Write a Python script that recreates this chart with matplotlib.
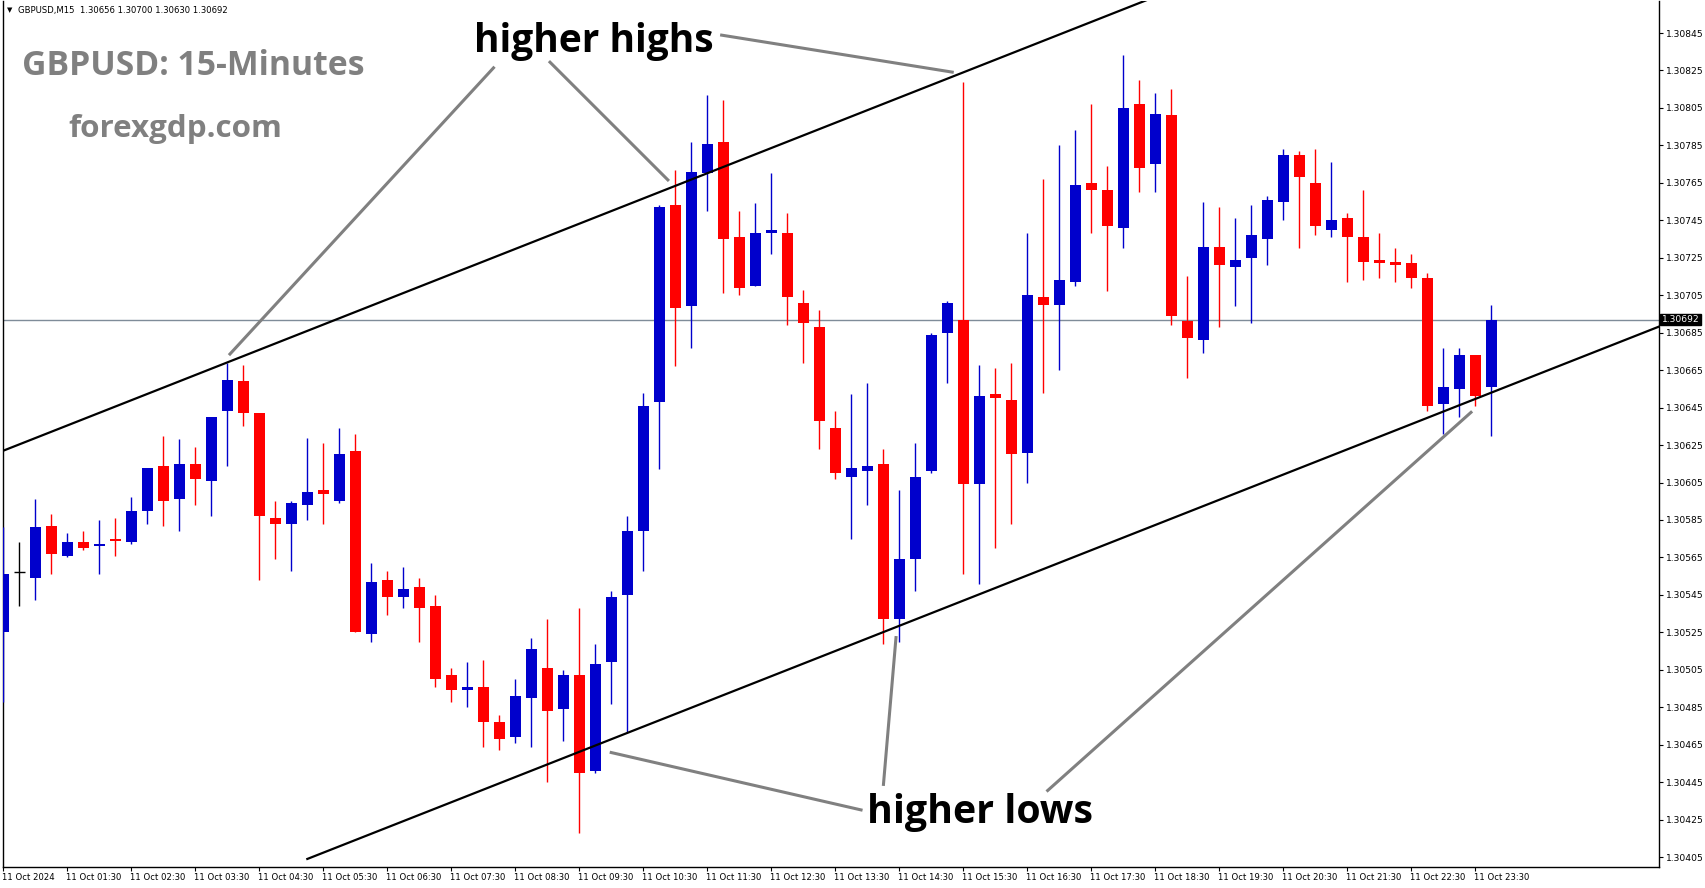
import matplotlib
matplotlib.use("Agg")
import matplotlib.pyplot as plt
import matplotlib.transforms as mtransforms

# GBPUSD M15 candles, 11 Oct 2024 00:30 .. 23:45
opens = [1.30525, 1.30557, 1.30554, 1.30582, 1.30566, 1.30573, 1.30571, 1.30575, 1.30573, 1.30590,
         1.30614, 1.30596, 1.30615, 1.30606, 1.30643, 1.30659, 1.30642, 1.30586, 1.30583, 1.30593,
         1.30601, 1.30595, 1.30622, 1.30524, 1.30553, 1.30544, 1.30549, 1.30539, 1.30502, 1.30494,
         1.30496, 1.30477, 1.30469, 1.30490, 1.30506, 1.30484, 1.30502, 1.30451, 1.30509, 1.30545,
         1.30579, 1.30648, 1.30753, 1.30699, 1.30770, 1.30787, 1.30736, 1.30710, 1.30738, 1.30738,
         1.30701, 1.30688, 1.30634, 1.30608, 1.30611, 1.30615, 1.30532, 1.30564, 1.30611, 1.30685,
         1.30692, 1.30604, 1.30652, 1.30649, 1.30621, 1.30704, 1.30700, 1.30712, 1.30765, 1.30761,
         1.30741, 1.30807, 1.30775, 1.30801, 1.30691, 1.30681, 1.30731, 1.30720, 1.30725, 1.30735,
         1.30755, 1.30780, 1.30765, 1.30740, 1.30746, 1.30736, 1.30724, 1.30723, 1.30722, 1.30714,
         1.30647, 1.30655, 1.30673, 1.30656]
highs = [1.30581, 1.30573, 1.30596, 1.30588, 1.30578, 1.30579, 1.30585, 1.30586, 1.30597, 1.30613,
         1.30630, 1.30628, 1.30624, 1.30640, 1.30669, 1.30668, 1.30642, 1.30595, 1.30595, 1.30629,
         1.30626, 1.30634, 1.30631, 1.30562, 1.30558, 1.30560, 1.30554, 1.30545, 1.30506, 1.30509,
         1.30510, 1.30481, 1.30500, 1.30522, 1.30532, 1.30505, 1.30538, 1.30519, 1.30547, 1.30587,
         1.30653, 1.30753, 1.30772, 1.30787, 1.30812, 1.30809, 1.30750, 1.30754, 1.30770, 1.30749,
         1.30708, 1.30697, 1.30643, 1.30652, 1.30658, 1.30623, 1.30601, 1.30626, 1.30685, 1.30702,
         1.30819, 1.30668, 1.30666, 1.30669, 1.30738, 1.30767, 1.30785, 1.30793, 1.30807, 1.30774,
         1.30833, 1.30820, 1.30813, 1.30815, 1.30715, 1.30755, 1.30752, 1.30746, 1.30753, 1.30758,
         1.30783, 1.30782, 1.30783, 1.30776, 1.30749, 1.30761, 1.30738, 1.30730, 1.30727, 1.30717,
         1.30677, 1.30677, 1.30673, 1.30700]
lows = [1.30488, 1.30539, 1.30542, 1.30556, 1.30565, 1.30569, 1.30556, 1.30566, 1.30572, 1.30583,
        1.30582, 1.30579, 1.30593, 1.30587, 1.30614, 1.30635, 1.30553, 1.30564, 1.30558, 1.30585,
        1.30583, 1.30594, 1.30525, 1.30520, 1.30534, 1.30538, 1.30520, 1.30496, 1.30488, 1.30485,
        1.30464, 1.30462, 1.30466, 1.30464, 1.30445, 1.30467, 1.30418, 1.30450, 1.30487, 1.30472,
        1.30558, 1.30612, 1.30667, 1.30677, 1.30750, 1.30706, 1.30705, 1.30710, 1.30727, 1.30689,
        1.30669, 1.30623, 1.30607, 1.30575, 1.30593, 1.30519, 1.30520, 1.30547, 1.30610, 1.30658,
        1.30556, 1.30551, 1.30570, 1.30583, 1.30605, 1.30653, 1.30665, 1.30710, 1.30738, 1.30707,
        1.30730, 1.30760, 1.30760, 1.30689, 1.30661, 1.30674, 1.30688, 1.30699, 1.30690, 1.30721,
        1.30745, 1.30730, 1.30737, 1.30736, 1.30712, 1.30713, 1.30714, 1.30712, 1.30709, 1.30643,
        1.30631, 1.30640, 1.30646, 1.30630]
closes = [1.30556, 1.30557, 1.30581, 1.30567, 1.30573, 1.30570, 1.30572, 1.30574, 1.30590, 1.30613,
          1.30595, 1.30615, 1.30607, 1.30640, 1.30660, 1.30642, 1.30587, 1.30583, 1.30594, 1.30600,
          1.30599, 1.30620, 1.30525, 1.30552, 1.30544, 1.30548, 1.30538, 1.30500, 1.30494, 1.30496,
          1.30477, 1.30468, 1.30491, 1.30516, 1.30483, 1.30502, 1.30450, 1.30508, 1.30544, 1.30579,
          1.30646, 1.30752, 1.30698, 1.30771, 1.30786, 1.30735, 1.30709, 1.30738, 1.30740, 1.30704,
          1.30690, 1.30638, 1.30610, 1.30613, 1.30614, 1.30532, 1.30564, 1.30608, 1.30684, 1.30701,
          1.30604, 1.30651, 1.30650, 1.30620, 1.30705, 1.30700, 1.30713, 1.30764, 1.30761, 1.30742,
          1.30805, 1.30773, 1.30802, 1.30694, 1.30682, 1.30731, 1.30721, 1.30724, 1.30737, 1.30756,
          1.30780, 1.30768, 1.30742, 1.30745, 1.30736, 1.30723, 1.30722, 1.30721, 1.30714, 1.30646,
          1.30656, 1.30673, 1.30651, 1.30692]

time_labels = ["11 Oct 2024"] + ["11 Oct %02d:30" % h for h in range(1, 24)]
price_ticks = [1.30405 + 0.0002 * k for k in range(23)]
last_price = 1.30692
header = "GBPUSD,M15  1.30656 1.30700 1.30630 1.30692"

# channel lines (bar index, price)
upper_channel = [(0, 1.30622), (75, 1.308745)]
lower_channel = [(19, 1.30404), (104, 1.30690)]

# annotation pointer lines (bar index, price) -> (bar index, price)
pointers = [
    ((30.7, 1.30827), (14.1, 1.30673)),
    ((34.1, 1.30830), (41.6, 1.30766)),
    ((44.8, 1.30844), (59.4, 1.30824)),
    ((53.7, 1.30430), (37.9, 1.30461)),
    ((55.0, 1.30443), (55.8, 1.30523)),
    ((65.2, 1.30440), (91.8, 1.30643)),
]

BLUE = "#0000CC"
RED = "#FF0000"

W, H = 1705, 888
fig = plt.figure(figsize=(W / 100, H / 100), dpi=100)
ax = fig.add_axes([2.7 / W, 21 / H, (1659 - 2.7) / W, (867 - 1) / H])

n = len(opens)
idx = list(range(n))
cols = []
for o, c in zip(opens, closes):
    if c > o:
        cols.append(BLUE)
    elif c < o:
        cols.append(RED)
    else:
        cols.append("black")

ax.vlines(idx, lows, highs, colors=cols, linewidth=1.0, zorder=3)
bottoms = [min(o, c) for o, c in zip(opens, closes)]
heights = [abs(c - o) for o, c in zip(opens, closes)]
ax.bar(idx, heights, bottom=bottoms, width=0.7, color=cols, linewidth=0, zorder=4)
for i in idx:
    if heights[i] == 0:
        ax.hlines(opens[i], i - 0.35, i + 0.35, colors="black", linewidth=1.0, zorder=4)

# current price line
ax.axhline(last_price, color="#7f8c99", linewidth=1.0, zorder=2)

# channel
for line in (upper_channel, lower_channel):
    ax.plot([p[0] for p in line], [p[1] for p in line], color="black", linewidth=1.6, zorder=5)

for (x0, y0), (x1, y1) in pointers:
    ax.plot([x0, x1], [y0, y1], color="#808080", linewidth=2.2, solid_capstyle="butt", zorder=6)

ax.text(29.4, 1.30835, "higher highs", fontsize=28, fontweight="bold", family="Open Sans",
        color="black", ha="left", va="baseline", zorder=7)
ax.text(54.0, 1.30423, "higher lows", fontsize=28.3, fontweight="bold", family="Open Sans",
        color="black", ha="left", va="baseline", zorder=7)

ax.set_xlim(-0.04, 103.48)
ax.set_ylim(1.303997, 1.308621)

ax.yaxis.tick_right()
ax.set_yticks(price_ticks)
ax.set_yticklabels(["%.5f" % p for p in price_ticks])
ax.tick_params(axis="y", direction="out", length=3, width=0.8, pad=2, labelsize=6.6)
ax.set_xticks([4 * k for k in range(len(time_labels))])
ax.set_xticklabels(time_labels)
ax.tick_params(axis="x", direction="out", length=3, width=0.8, pad=1, labelsize=6.1)
offset = mtransforms.ScaledTranslation(-1 / 100, 0, fig.dpi_scale_trans)
for lab in ax.get_xticklabels():
    lab.set_horizontalalignment("left")
    lab.set_transform(lab.get_transform() + offset)

for sp in ax.spines.values():
    sp.set_color("black")
    sp.set_linewidth(1.0)
ax.spines["top"].set_visible(False)

# last price tag on the axis
trans = mtransforms.blended_transform_factory(ax.transAxes, ax.transData)
ax.text(1.0015, last_price, "1.30692", transform=trans, fontsize=6.6, color="white",
        ha="left", va="center", zorder=10, clip_on=False,
        bbox=dict(boxstyle="square,pad=0.15", facecolor="black", edgecolor="black"))

fig.text(7 / W, 1 - 10 / H, "\u25bc", fontsize=5, color="black", ha="left", va="center")
fig.text(18 / W, 1 - 10 / H, header, fontsize=6.1, color="black", ha="left", va="center")
fig.text(22 / W, 1 - 75 / H, "GBPUSD: 15-Minutes", fontsize=24.3, fontweight="bold",
         family="Open Sans", color="#808080", ha="left", va="baseline")
fig.text(68 / W, 1 - 137 / H, "forexgdp.com", fontsize=22.6, fontweight="bold",
         family="Open Sans", color="#808080", ha="left", va="baseline")

fig.savefig("out.png", dpi=100)
